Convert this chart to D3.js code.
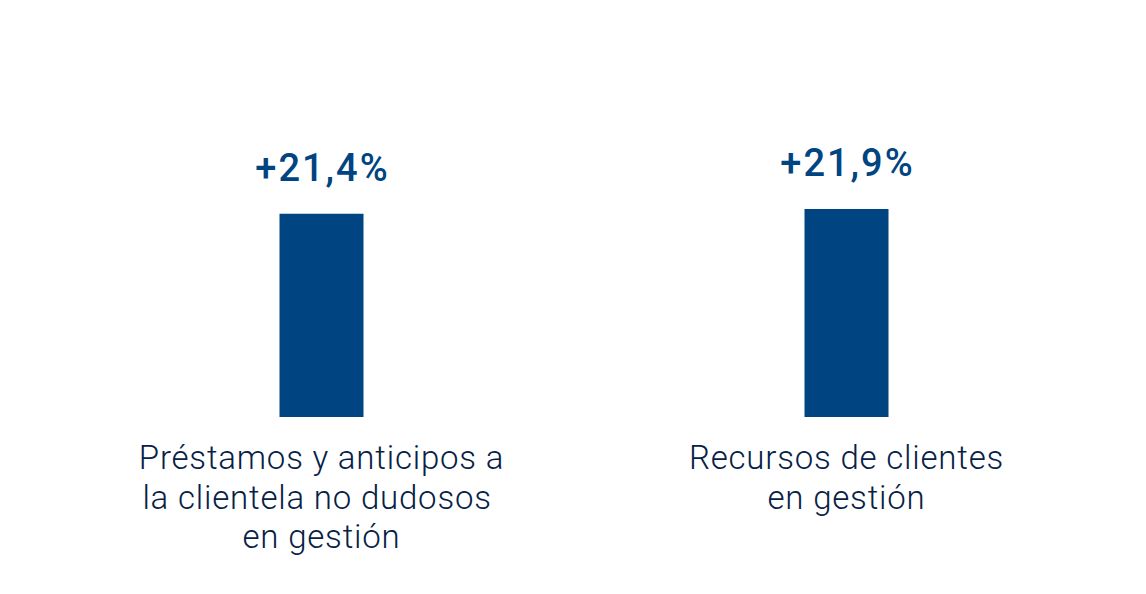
<!DOCTYPE html>
<html><head><meta charset="utf-8">
<script src="https://cdn.jsdelivr.net/npm/d3@7"></script>
<style>body{margin:0;background:#fff}svg{display:block}text{white-space:pre}</style>
</head><body>
<svg id="c" width="1146" height="594"></svg>
<script>
const categories = ["Préstamos y anticipos a|la clientela no dudosos |en gestión", "Recursos de clientes|en gestión"];
const values = [21.4, 21.9];
const valueLabels = ["+21,4%", "+21,9%"];

const svg = d3.select("#c");
const x = d3.scaleBand().domain(categories).range([59, 1109]).paddingInner(0.84).paddingOuter(0.42);
const y = d3.scaleLinear().domain([0, 21.9]).range([417, 209]);

svg.selectAll("rect.bar").data(values).join("rect")
  .attr("class","bar")
  .attr("x",(d,i)=>x(categories[i]))
  .attr("width",x.bandwidth())
  .attr("y",d=>y(d))
  .attr("height",d=>y(0)-y(d))
  .attr("fill","#004481");

svg.selectAll("text.val").data(values).join("text")
  .attr("class","val")
  .attr("x",(d,i)=>x(categories[i])+x.bandwidth()/2+1)
  .attr("y",d=>y(d)-33)
  .attr("text-anchor","middle")
  .attr("font-family","Roboto, sans-serif")
  .attr("font-weight","500")
  .attr("font-size","38px")
  .attr("letter-spacing","2px")
  .attr("fill","#004481")
  .text((d,i)=>valueLabels[i]);

const cat = svg.selectAll("text.cat").data(categories).join("text")
  .attr("class","cat")
  .attr("text-anchor","middle")
  .attr("font-family","Roboto, sans-serif")
  .attr("font-weight","300")
  .attr("font-size","33px")
  .attr("letter-spacing","0.8px")
  .attr("fill","#072146");
cat.each(function(d){
  const t = d3.select(this);
  const cx = x(d)+x.bandwidth()/2;
  d.split("|").forEach((line,j)=>{
    t.append("tspan").attr("x",cx).attr("y",469+j*39.5).text(line);
  });
});
</script>
</body></html>
